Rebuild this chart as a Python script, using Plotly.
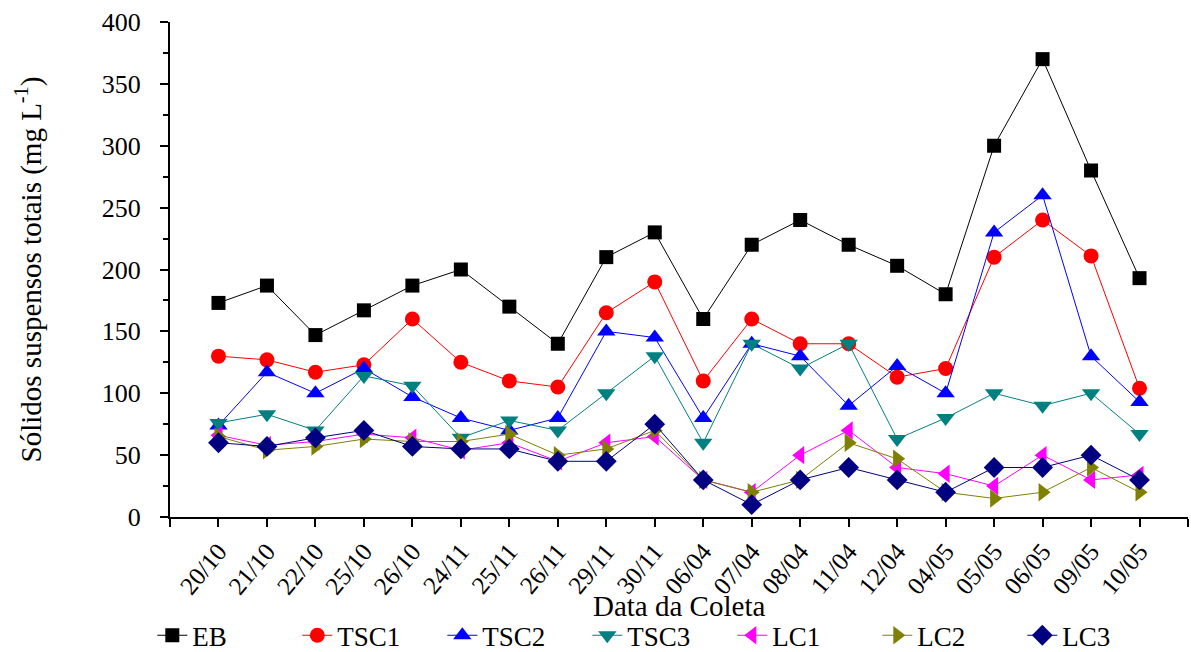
import plotly.graph_objects as go

dates = ["20/10", "21/10", "22/10", "25/10", "26/10", "24/11", "25/11", "26/11", "29/11", "30/11",
         "06/04", "07/04", "08/04", "11/04", "12/04", "04/05", "05/05", "06/05", "09/05", "10/05"]

EB   = [173, 187, 147, 167, 187, 200, 170, 140, 210, 230, 160, 220, 240, 220, 203, 180, 300, 370, 280, 193]
TSC1 = [130, 127, 117, 123, 160, 125, 110, 105, 165, 190, 110, 160, 140, 140, 113, 120, 210, 240, 211, 104]
TSC2 = [74, 117, 100, 120, 97, 80, 70, 80, 150, 145, 80, 140, 130, 90, 122, 100, 230, 260, 130, 93]
TSC3 = [76, 83, 70, 114, 106, 64, 78, 70, 100, 130, 60, 140, 120, 140, 63, 80, 100, 90, 100, 67]
LC1  = [66, 58, 61, 67, 64, 54, 60, 45, 60, 65, 30, 20, 50, 70, 40, 35, 25, 50, 30, 34]
LC2  = [65, 54, 57, 63, 61, 61, 67, 50, 55, 70, 30, 20, 30, 60, 47, 20, 15, 20, 40, 20]
LC3  = [60, 57, 64, 70, 57, 55, 55, 45, 45, 75, 30, 10, 30, 40, 30, 20, 40, 40, 50, 30]

series = [
    ("EB", EB, "#000000", "square", 14),
    ("TSC1", TSC1, "#FF0000", "circle", 15),
    ("TSC2", TSC2, "#0000FF", "triangle-up", 16),
    ("TSC3", TSC3, "#008080", "triangle-down", 16),
    ("LC1", LC1, "#FF00FF", "triangle-left", 16),
    ("LC2", LC2, "#808000", "triangle-right", 16),
    ("LC3", LC3, "#000080", "diamond", 16),
]

xs = list(range(len(dates)))
FONT = "Liberation Serif, Times New Roman, serif"

fig = go.Figure()
for name, vals, col, sym, sz in series:
    fig.add_trace(go.Scatter(
        x=xs, y=vals, name=name, mode="lines+markers",
        line=dict(color=col, width=1),
        marker=dict(symbol=sym, size=sz, color=col, line=dict(width=0)),
    ))

fig.update_layout(
    width=1191, height=652,
    paper_bgcolor="white", plot_bgcolor="white",
    margin=dict(l=170, r=3, t=22, b=135, autoexpand=False),
    font=dict(family=FONT, size=24, color="black"),
    showlegend=True,
    legend=dict(orientation="h", xref="container", x=0.554, xanchor="center",
                yref="container", y=0.025, yanchor="middle",
                font=dict(family=FONT, size=27), entrywidth=100, itemwidth=30,
                tracegroupgap=0, bgcolor="rgba(0,0,0,0)"),
    annotations=[dict(text="Data da Coleta", xref="paper", yref="paper", x=0.5, y=-0.18,
                      xanchor="center", yanchor="middle", showarrow=False,
                      font=dict(family=FONT, size=29))],
)
fig.update_xaxes(
    range=[-1, len(dates)], tickmode="array",
    tickvals=list(range(-1, len(dates) + 1)),
    ticktext=[""] + dates + [""],
    tickangle=-50, ticks="outside", ticklen=8, tickwidth=2, tickcolor="black",
    showline=True, linecolor="black", linewidth=2, showgrid=False, zeroline=False,
    tickfont=dict(family=FONT, size=25), automargin=False,
)
fig.update_yaxes(
    range=[0, 400], tickmode="linear", tick0=0, dtick=50,
    ticks="outside", ticklen=8, tickwidth=2, tickcolor="black",
    minor=dict(dtick=25, ticks="outside", ticklen=5, tickwidth=2, tickcolor="black"),
    showline=True, linecolor="black", linewidth=2, showgrid=False, zeroline=False,
    tickfont=dict(family=FONT, size=26), ticklabelstandoff=14, automargin=False,
    title=dict(text="Sólidos suspensos totais (mg L<sup>-1</sup>)", font=dict(family=FONT, size=29), standoff=52),
)

fig.write_html("out.html", config={"displayModeBar": False},
               post_script="document.body.style.margin='0';document.body.style.padding='0';")
